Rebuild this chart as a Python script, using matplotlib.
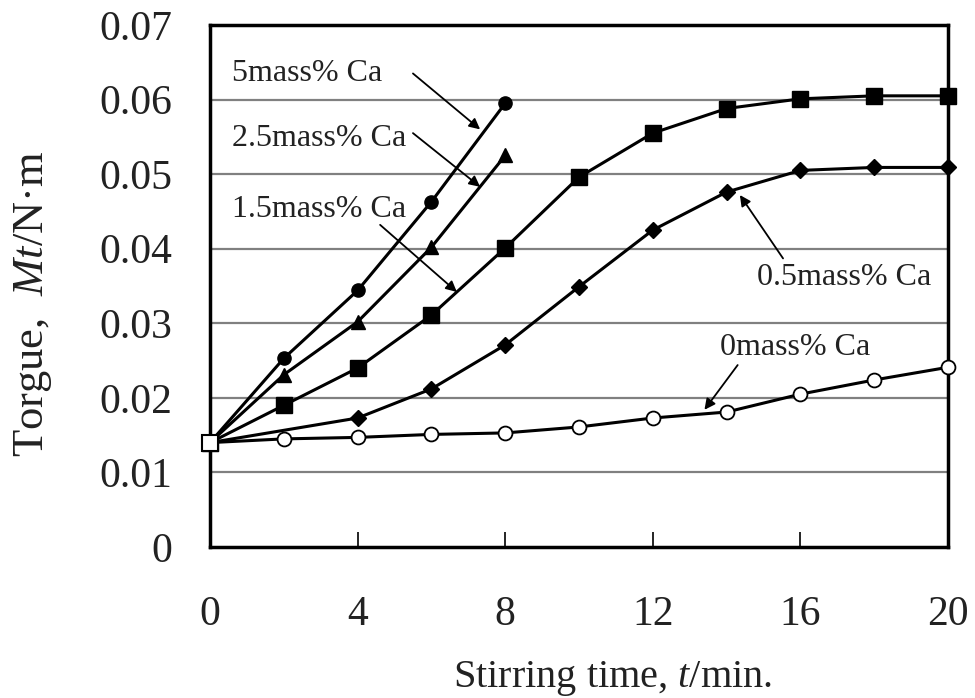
import matplotlib
matplotlib.use("Agg")
import matplotlib.pyplot as plt

plt.rcParams['font.family'] = ['Liberation Serif', 'DejaVu Serif']
plt.rcParams['mathtext.fontset'] = 'custom'
plt.rcParams['mathtext.rm'] = 'Liberation Serif'
plt.rcParams['mathtext.it'] = 'Liberation Serif:italic'

# data
t_short = [0, 2, 4, 6, 8]
ca5 = [0.014, 0.0253, 0.0344, 0.0463, 0.0595]
ca25 = [0.014, 0.0231, 0.0302, 0.0402, 0.0525]

t_long = [0, 2, 4, 6, 8, 10, 12, 14, 16, 18, 20]
ca15 = [0.014, 0.0190, 0.0240, 0.0311, 0.0401, 0.0496, 0.0555, 0.0588, 0.0601, 0.0605, 0.0605]
ca05 = [0.014, None, 0.0173, 0.0212, 0.0271, 0.0349, 0.0425, 0.0476, 0.0505, 0.0509, 0.0509]
ca0 = [0.014, 0.0145, 0.0147, 0.0151, 0.0153, 0.0161, 0.0173, 0.0181, 0.0205, 0.0224, 0.0241]

x_ticks = [0, 4, 8, 12, 16, 20]
y_ticks = [0, 0.01, 0.02, 0.03, 0.04, 0.05, 0.06, 0.07]
y_tick_labels = ['0', '0.01', '0.02', '0.03', '0.04', '0.05', '0.06', '0.07']

# label text, text position, arrow tail, arrow head
labels = [
    ('5mass% Ca', (0.6, 0.0635), (5.5, 0.0635), (7.32, 0.0560)),
    ('2.5mass% Ca', (0.6, 0.0548), (5.5, 0.0555), (7.32, 0.0483)),
    ('1.5mass% Ca', (0.6, 0.0452), (4.61, 0.0432), (6.69, 0.0342)),
    ('0.5mass% Ca', (14.82, 0.0362), (15.53, 0.0387), (14.36, 0.0472)),
    ('0mass% Ca', (13.82, 0.0268), (14.3, 0.0244), (13.4, 0.0184)),
]

fig = plt.figure(figsize=(9.75, 6.98), dpi=100)
ax = fig.add_axes([0.2154, 0.2163, 0.9723 - 0.2154, 0.9642 - 0.2163])

ax.set_xlim(0, 20)
ax.set_ylim(0, 0.07)

for y in y_ticks[1:-1]:
    ax.axhline(y, color='#808080', lw=1.6, zorder=1)

lw = 2.2
x05 = [x for x, v in zip(t_long, ca05) if v is not None]
v05 = [v for v in ca05 if v is not None]
ax.plot(t_long, ca0, color='black', lw=lw, marker='o', ms=10,
        mfc='white', mec='black', mew=1.3, zorder=3, clip_on=False)
ax.plot(x05, v05, color='black', lw=lw, marker='D', ms=8,
        mfc='black', mec='black', zorder=3, clip_on=False)
ax.plot(t_long, ca15, color='black', lw=lw, marker='s', ms=12,
        mfc='black', mec='black', zorder=3, clip_on=False)
ax.plot(t_short, ca25, color='black', lw=lw, marker='^', ms=10,
        mfc='black', mec='black', zorder=3, clip_on=False)
ax.plot(t_short, ca5, color='black', lw=lw, marker='o', ms=9.5,
        mfc='black', mec='black', zorder=3, clip_on=False)
# open square at the common start point
ax.plot([0], [0.014], marker='s', ms=12, mfc='white', mec='black', mew=1.5,
        zorder=4, clip_on=False, ls='none')

for text, pos, tail, head in labels:
    ax.text(pos[0], pos[1], text, fontsize=23, ha='left', va='center',
            color='#222222', zorder=5)
    ax.annotate('', xy=head, xytext=tail,
                arrowprops=dict(arrowstyle='-|>', lw=1.3, color='black',
                                mutation_scale=16, shrinkA=0, shrinkB=0),
                zorder=5)

ax.set_xticks(x_ticks)
ax.set_yticks(y_ticks)
ax.set_yticklabels(y_tick_labels)
ax.tick_params(axis='x', direction='in', length=11, width=1.2, labelsize=30,
               pad=35, labelcolor='#222222')
ax.tick_params(axis='y', length=0, labelsize=30, pad=27, labelcolor='#222222')

for s in ax.spines.values():
    s.set_linewidth(2.5)
    s.set_color('black')

ax.set_xlabel('Stirring time, $t$/min.', fontsize=29, color='#222222')
ax.xaxis.label.set_va('baseline')
ax.xaxis.set_label_coords(0.545, -0.268)

ax.set_ylabel('Torgue,  $Mt$/N·m', fontsize=32, color='#222222')
ax.yaxis.set_label_coords(-0.212, 0.4655)

fig.savefig('out.png', dpi=100)
